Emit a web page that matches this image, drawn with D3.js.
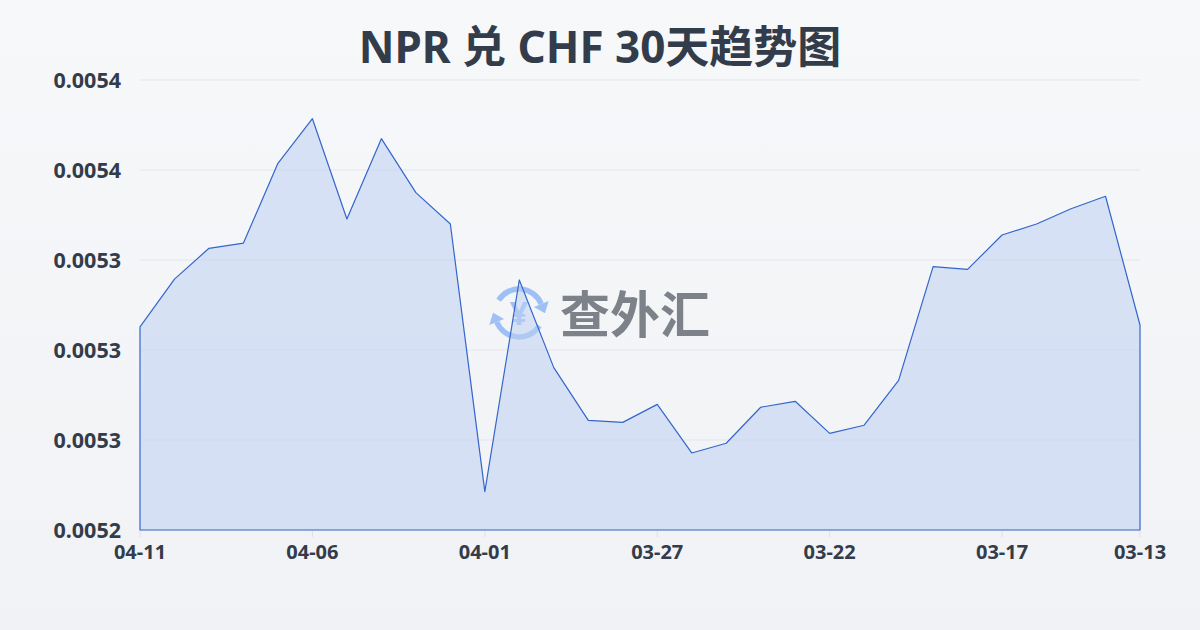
<!DOCTYPE html>
<html>
<head>
<meta charset="utf-8">
<script src="https://cdn.jsdelivr.net/npm/d3@7/dist/d3.min.js"></script>
<style>
html,body{margin:0;padding:0;}
body{width:1200px;height:630px;overflow:hidden;}
svg{display:block;font-family:"Noto Sans","Noto Sans CJK SC",sans-serif;}
</style>
</head>
<body>
<svg id="chart" width="1200" height="630"></svg>
<script>
const title = "NPR 兑 CHF 30天趋势图";
const dates = ["04-11","04-10","04-09","04-08","04-07","04-06","04-05","04-04","04-03","04-02",
  "04-01","03-31","03-30","03-29","03-28","03-27","03-26","03-25","03-24","03-23",
  "03-22","03-21","03-20","03-19","03-18","03-17","03-16","03-15","03-14","03-13"];
const rates = [0.0053128,0.0053394,0.0053565,0.0053594,0.0054037,0.0054285,0.0053728,0.0054174,0.0053874,0.0053700,
  0.0052213,0.0053389,0.0052902,0.0052609,0.0052598,0.0052698,0.0052428,0.0052482,0.0052682,0.0052715,
  0.0052537,0.0052582,0.0052831,0.0053463,0.0053448,0.0053639,0.0053700,0.0053785,0.0053854,0.0053139];
const yTickValues = [0.0052,0.00525,0.0053,0.00535,0.0054,0.00545];
const yTickLabels = ["0.0052","0.0053","0.0053","0.0053","0.0054","0.0054"];
const xTickLabels = ["04-11","04-06","04-01","03-27","03-22","03-17","03-13"];

const svg = d3.select("#chart");
const W = 1200, H = 630;
const m = {left:140, right:60, top:80, bottom:100};

const defs = svg.append("defs");
const bg = defs.append("linearGradient").attr("id","bg").attr("x1",0).attr("y1",0).attr("x2",0).attr("y2",1);
bg.append("stop").attr("offset","0%").attr("stop-color","#f7f8fa");
bg.append("stop").attr("offset","100%").attr("stop-color","#f0f2f5");
svg.append("rect").attr("width",W).attr("height",H).attr("fill","url(#bg)");

const x = d3.scalePoint().domain(dates).range([m.left, W - m.right]);
const y = d3.scaleLinear().domain([0.0052, 0.00545]).range([H - m.bottom, m.top]);

// grid
svg.append("g").selectAll("line").data(yTickValues).join("line")
  .attr("x1", m.left).attr("x2", W - m.right)
  .attr("y1", d => y(d)).attr("y2", d => y(d))
  .attr("stroke", "#e3e6eb").attr("stroke-width", 1);

// y labels
svg.append("g").selectAll("text").data(yTickValues).join("text")
  .attr("x", 121).attr("y", d => y(d)).attr("dy", "0.35em")
  .attr("text-anchor", "end").attr("font-size", 21.5).attr("font-weight", 700)
  .attr("fill", "#333c4a").text((d,i) => yTickLabels[i]);

// watermark
const wm = svg.append("g");
const cx = 519, cy = 313, r = 24, col = "#9fc0f4";
const deg = Math.PI / 180;
function arrowHead(theta) {
  const px = cx + r * Math.sin(theta), py = cy - r * Math.cos(theta);
  const tx = Math.cos(theta), ty = Math.sin(theta);
  const nx = Math.sin(theta), ny = -Math.cos(theta);
  const w = 8, L = 10;
  return `M${px + nx*w},${py + ny*w} L${px - nx*w},${py - ny*w} L${px + tx*L},${py + ty*L} Z`;
}
wm.append("path").attr("d", d3.arc()({innerRadius:r-2.7, outerRadius:r+2.7, startAngle:-58*deg, endAngle:68*deg}))
  .attr("transform", `translate(${cx},${cy})`).attr("fill", col);
wm.append("path").attr("d", arrowHead(68*deg)).attr("fill", col);
wm.append("path").attr("d", d3.arc()({innerRadius:r-2.7, outerRadius:r+2.7, startAngle:122*deg, endAngle:248*deg}))
  .attr("transform", `translate(${cx},${cy})`).attr("fill", col);
wm.append("path").attr("d", arrowHead(248*deg)).attr("fill", col);
wm.append("text").attr("x", cx).attr("y", cy).attr("dy","0.36em").attr("text-anchor","middle")
  .attr("font-size", 32).attr("font-weight", 700).attr("fill", col).text("¥");
wm.append("text").attr("x", 560).attr("y", 315).attr("dy","0.36em")
  .attr("font-size", 50).attr("font-weight", 700).attr("fill", "#7d828a")
  .attr("font-family", "'Noto Sans CJK SC',sans-serif").text("查外汇");

// area
const area = d3.area().x((d,i) => x(dates[i])).y0(y(0.0052)).y1(d => y(d));
svg.append("path").datum(rates).attr("d", area)
  .attr("fill", "rgba(190,208,242,0.55)").attr("stroke", "#3366cc").attr("stroke-width", 1.2)
  .attr("stroke-linejoin", "round");

// x ticks
const xg = svg.append("g");
xg.selectAll("line").data(xTickLabels).join("line")
  .attr("x1", d => x(d)).attr("x2", d => x(d)).attr("y1", H - m.bottom + 1).attr("y2", H - m.bottom + 7)
  .attr("stroke", "#dde0e5");
xg.selectAll("text").data(xTickLabels).join("text")
  .attr("x", d => x(d)).attr("y", 559).attr("text-anchor", "middle")
  .attr("font-size", 20).attr("font-weight", 700).attr("fill", "#333c4a").text(d => d);

// title
svg.append("text").attr("x", 600).attr("y", 63).attr("text-anchor", "middle")
  .attr("font-size", 44).attr("font-weight", 700).attr("fill", "#333c4a")
  .attr("font-family", "'Noto Sans','Noto Sans CJK SC',sans-serif").text(title);
</script>
</body>
</html>
